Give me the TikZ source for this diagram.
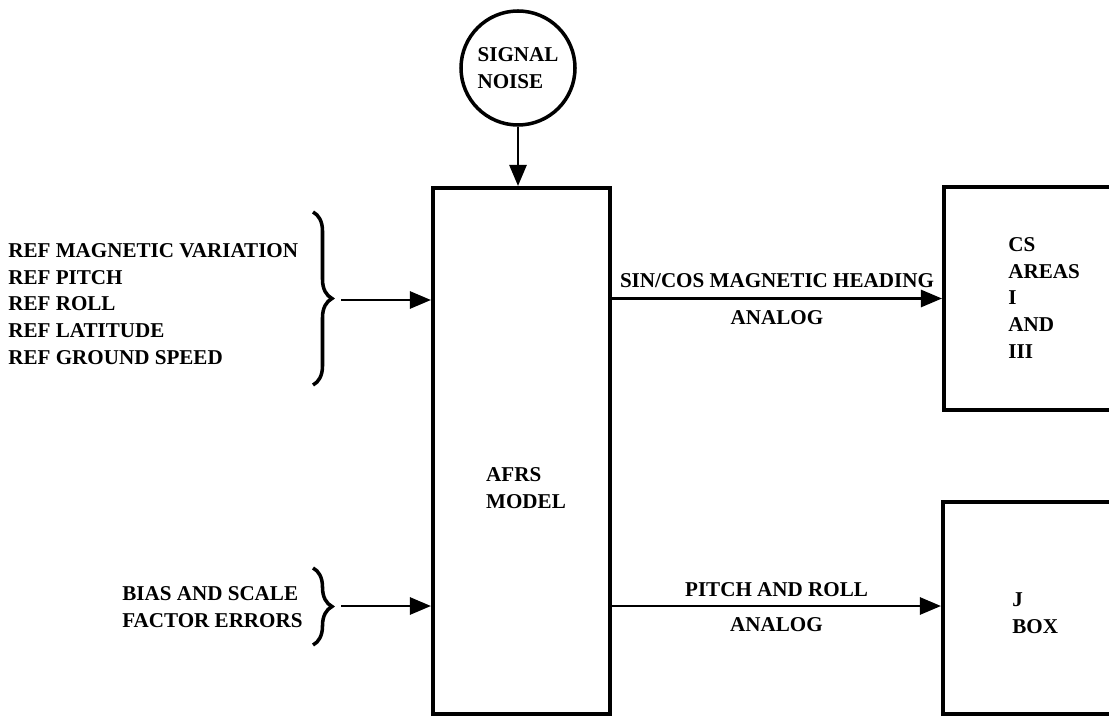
\documentclass[tikz,border=0pt]{standalone}
\usepackage{fontspec}
\setmainfont{Liberation Serif}
\usetikzlibrary{arrows.meta,positioning,decorations.pathreplacing,calc}

\begin{document}
\begin{tikzpicture}[
  lbl/.style={font=\fontsize{12}{15.2}\selectfont\bfseries, align=left, inner sep=0pt},
  blk/.style={draw, line width=2.3pt, inner sep=0pt},
  flow/.style={line width=1.5pt, -{Triangle[length=4.2mm,width=3.4mm]}},
  brc/.style={line width=2pt, decorate, decoration={brace, amplitude=3.8mm}}
]
  \useasboundingbox (0,0) rectangle (22.18,14.34);
  \clip (0,0) rectangle (22.18,14.34);
  % Noise source
  \node[lbl, draw, circle, line width=2pt, minimum size=2.28cm] (nSignal) at (10.36,12.98) {SIGNAL\\NOISE};
  % Blocks
  \node[blk, minimum width=3.54cm, minimum height=10.52cm] (nAFRS) at (10.43,5.32) {};
  \node[lbl] (nAFRSlbl) at (10.52,4.58) {AFRS\\MODEL};
  \node[blk, minimum width=4.12cm, minimum height=4.46cm] (nCS) at (20.94,8.37) {};
  \node[lbl, anchor=west] (nCSlbl) at (20.16,8.38) {CS\\AREAS\\I\\AND\\III};
  \node[blk, minimum width=4.14cm, minimum height=4.24cm] (nJ) at (20.93,2.18) {};
  \node[lbl, anchor=west] (nJlbl) at (20.24,2.08) {J\\BOX};
  % Reference inputs
  \node[lbl, anchor=west] (nRef) at (0.16,8.26) {REF MAGNETIC VARIATION\\REF PITCH\\REF ROLL\\REF LATITUDE\\REF GROUND SPEED};
  \draw[brc] (6.26,10.1) -- (6.26,6.64);
  \coordinate (cIn1) at (6.82,8.34);
  % Error inputs
  \node[lbl, anchor=west] (nBias) at (2.44,2.2) {BIAS AND SCALE\\FACTOR ERRORS};
  \draw[brc] (6.26,2.98) -- (6.26,1.44);
  \coordinate (cIn2) at (6.82,2.22);
  % Connectors
  \draw[flow] (nSignal.south) -- (nSignal.south |- nAFRS.north);
  \draw[flow] (cIn1) -- (nAFRS.west |- cIn1);
  \draw[flow] (cIn2) -- (nAFRS.west |- cIn2);
  \draw[flow] (nAFRS.east |- nCS) -- (nCS.west)
    node[lbl, midway, above=1.8mm] {SIN/COS MAGNETIC HEADING}
    node[lbl, midway, below=2.2mm] {ANALOG};
  \draw[flow] (nAFRS.east |- cIn2) -- (nJ.west |- cIn2)
    node[lbl, midway, above=1.6mm] {PITCH AND ROLL}
    node[lbl, midway, below=2mm] {ANALOG};
\end{tikzpicture}
\end{document}
